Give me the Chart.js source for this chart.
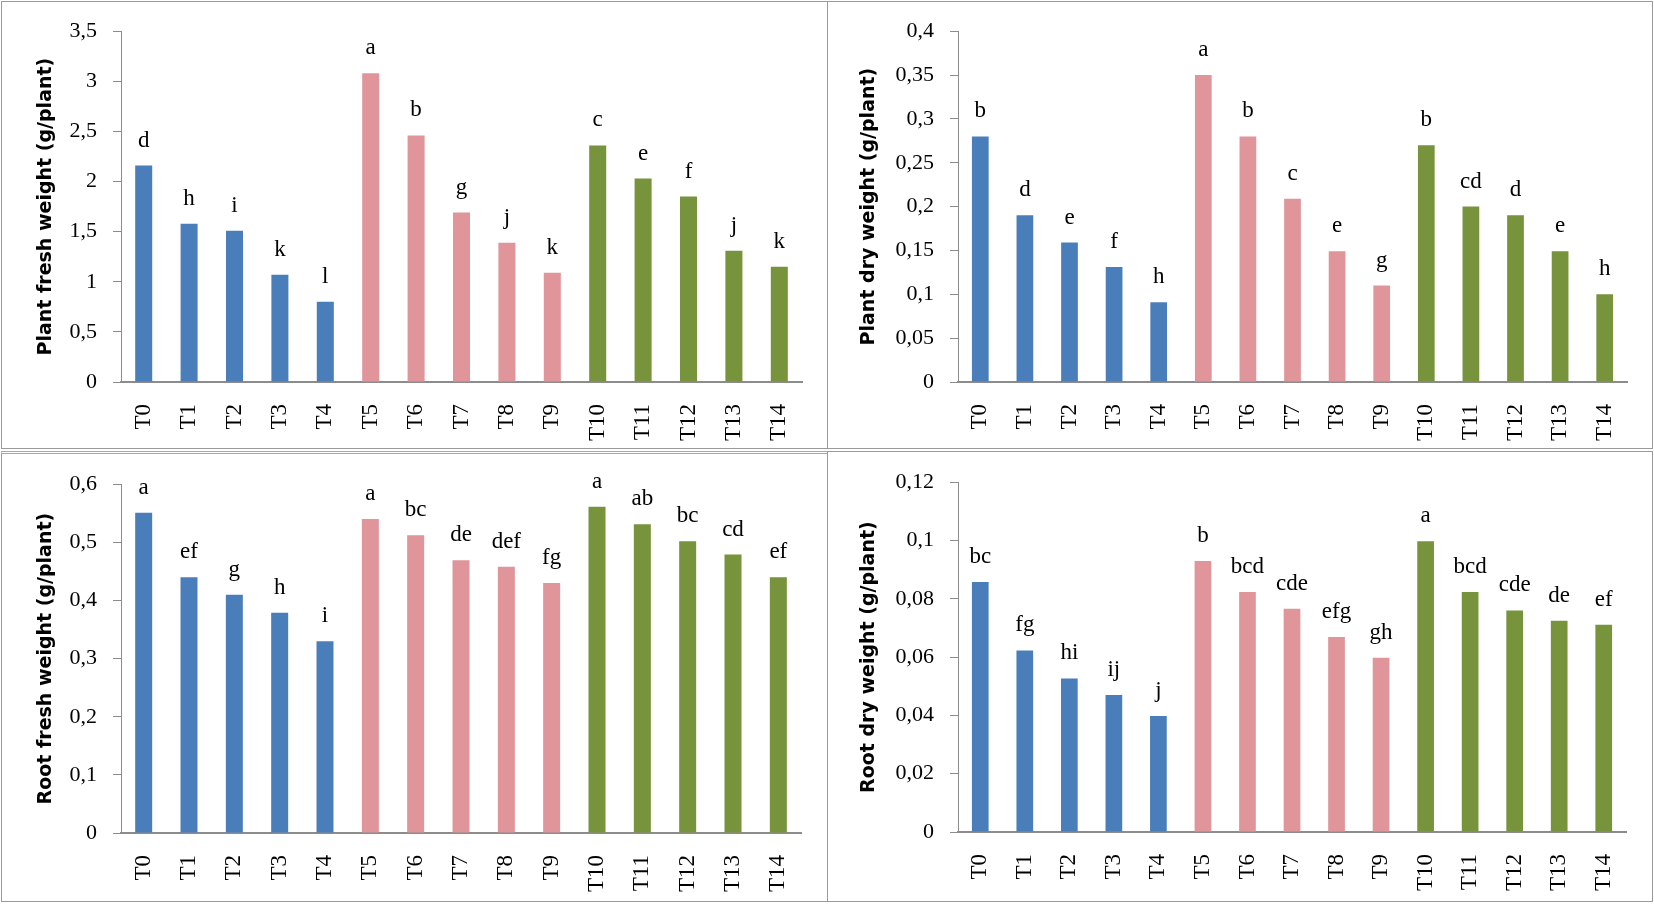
<!DOCTYPE html>
<html lang="en">
<head>
<meta charset="UTF-8">
<title>Plant and root weights T0-T14</title>
<script src="https://cdn.jsdelivr.net/npm/chart.js@4.4.1/dist/chart.umd.min.js"></script>
<style>
  body { margin: 0; background: #fff; width: 1654px; height: 904px; position: relative; overflow: hidden; }
  .panel { position: absolute; box-sizing: border-box; border: 1px solid #9a9a9a; }
  canvas { position: absolute; }
</style>
</head>
<body>
<div class="panel" style="left:1px;top:1px;width:827px;height:448px"></div>
<div class="panel" style="left:827px;top:1px;width:826px;height:448px"></div>
<div class="panel" style="left:1px;top:451px;width:827px;height:451px;border-top:3px double #a8a8a8"></div>
<div class="panel" style="left:827px;top:451px;width:826px;height:451px"></div>

<canvas id="plantFreshChart"></canvas>
<canvas id="plantDryChart"></canvas>
<canvas id="rootFreshChart"></canvas>
<canvas id="rootDryChart"></canvas>

<script>
// treatments (x axis)
const treatments = ['T0', 'T1', 'T2', 'T3', 'T4', 'T5', 'T6', 'T7', 'T8', 'T9', 'T10', 'T11', 'T12', 'T13', 'T14'];

// plant fresh weight (g/plant)
const plantFresh = [2.16, 1.58, 1.51, 1.07, 0.80, 3.08, 2.46, 1.69, 1.39, 1.09, 2.36, 2.03, 1.85, 1.31, 1.15];
const plantFreshLetters = ['d', 'h', 'i', 'k', 'l', 'a', 'b', 'g', 'j', 'k', 'c', 'e', 'f', 'j', 'k'];

// plant dry weight (g/plant)
const plantDry = [0.28, 0.19, 0.159, 0.131, 0.091, 0.35, 0.28, 0.209, 0.149, 0.11, 0.27, 0.20, 0.19, 0.149, 0.10];
const plantDryLetters = ['b', 'd', 'e', 'f', 'h', 'a', 'b', 'c', 'e', 'g', 'b', 'cd', 'd', 'e', 'h'];

// root fresh weight (g/plant)
const rootFresh = [0.551, 0.44, 0.41, 0.379, 0.33, 0.54, 0.512, 0.469, 0.458, 0.43, 0.561, 0.531, 0.502, 0.479, 0.44];
const rootFreshLetters = ['a', 'ef', 'g', 'h', 'i', 'a', 'bc', 'de', 'def', 'fg', 'a', 'ab', 'bc', 'cd', 'ef'];

// root dry weight (g/plant)
const rootDry = [0.0858, 0.0623, 0.0527, 0.047, 0.0398, 0.093, 0.0823, 0.0766, 0.0669, 0.0598, 0.0997, 0.0823, 0.076, 0.0725, 0.0711];
const rootDryLetters = ['bc', 'fg', 'hi', 'ij', 'j', 'b', 'bcd', 'cde', 'efg', 'gh', 'a', 'bcd', 'cde', 'de', 'ef'];

// three groups of five treatments
const groupColors = ['#4a7ebb', '#df959a', '#77933c'];
const barColors = treatments.map((t, i) => groupColors[Math.floor(i / 5)]);

// letters drawn above each bar
const letterPlugin = {
    id: 'letters',
    afterDatasetsDraw(chart, args, opts) {
        const ctx = chart.ctx;
        const meta = chart.getDatasetMeta(0);
        ctx.save();
        ctx.font = '23px "Liberation Serif"';
        ctx.fillStyle = '#000';
        ctx.textAlign = 'center';
        ctx.textBaseline = 'alphabetic';
        meta.data.forEach((bar, i) => {
            ctx.fillText(opts.labels[i], bar.x, bar.y - 19);
        });
        ctx.restore();
    }
};

const axisGrey = '#8c8c8c';

function makeChart(id, values, letters, yMax, yStep, yTitle, box) {
    // box: canvas position and wanted plot area, page pixels
    const canvas = document.getElementById(id);
    canvas.style.left = box.x + 'px';
    canvas.style.top = box.y + 'px';
    canvas.width = box.w;
    canvas.height = box.h;

    const padLeft = box.titleX - box.x - 11;
    const yWidth = box.left - box.x - padLeft;
    const xHeight = box.y + box.h - box.bottom;

    return new Chart(canvas, {
        type: 'bar',
        data: {
            labels: treatments,
            datasets: [{
                data: values,
                backgroundColor: barColors,
                barPercentage: 0.375,
                categoryPercentage: 1
            }]
        },
        options: {
            responsive: false,
            animation: false,
            layout: {
                padding: { left: padLeft, top: box.top - box.y, right: box.x + box.w - box.right, bottom: 0 }
            },
            plugins: {
                legend: { display: false },
                tooltip: { enabled: false },
                letters: { labels: letters }
            },
            scales: {
                x: {
                    grid: { display: false },
                    border: { display: true, color: axisGrey, width: 2 },
                    ticks: {
                        autoSkip: false,
                        minRotation: 90,
                        maxRotation: 90,
                        padding: 14,
                        color: '#000',
                        font: { family: '"Liberation Serif"', size: 23 }
                    },
                    afterFit: s => { s.height = xHeight; }
                },
                y: {
                    min: 0,
                    max: yMax,
                    grid: { drawOnChartArea: false, drawTicks: true, tickLength: 8, color: axisGrey },
                    border: { display: true, color: axisGrey, width: 1 },
                    ticks: {
                        stepSize: yStep,
                        padding: 16,
                        color: '#000',
                        font: { family: '"Liberation Serif"', size: 22 },
                        callback: v => String(Number(v.toFixed(3))).replace('.', ',')
                    },
                    title: {
                        display: true,
                        text: yTitle,
                        color: '#000',
                        padding: 0,
                        font: { family: '"DejaVu Sans"', size: 19, weight: 'bold', lineHeight: 1.2 }
                    },
                    afterFit: s => { s.width = yWidth; }
                }
            }
        },
        plugins: [letterPlugin]
    });
}

makeChart('plantFreshChart', plantFresh, plantFreshLetters, 3.5, 0.5, 'Plant fresh weight (g/plant)',
    { x: 2, y: 2, w: 824, h: 446, left: 121, right: 802, top: 30, bottom: 382, titleX: 46 });
makeChart('plantDryChart', plantDry, plantDryLetters, 0.4, 0.05, 'Plant dry weight (g/plant)',
    { x: 828, y: 2, w: 824, h: 446, left: 958, right: 1627, top: 29, bottom: 382, titleX: 869 });
makeChart('rootFreshChart', rootFresh, rootFreshLetters, 0.6, 0.1, 'Root fresh weight (g/plant)',
    { x: 2, y: 455, w: 824, h: 445, left: 121, right: 801, top: 481, bottom: 833, titleX: 46 });
makeChart('rootDryChart', rootDry, rootDryLetters, 0.12, 0.02, 'Root dry weight (g/plant)',
    { x: 828, y: 453, w: 824, h: 447, left: 958, right: 1626, top: 478, bottom: 832, titleX: 869 });
</script>
</body>
</html>
